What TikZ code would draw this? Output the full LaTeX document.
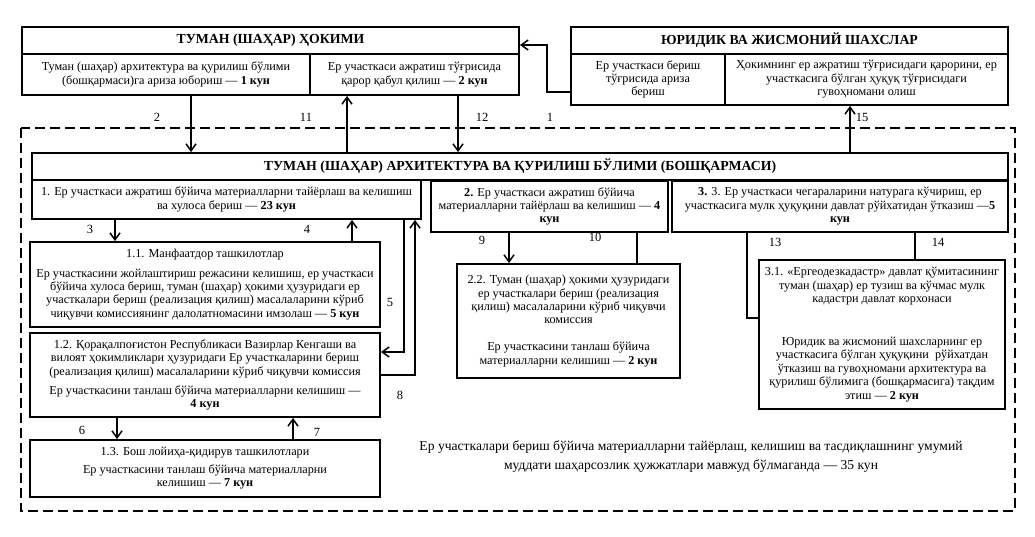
\documentclass[tikz,border=0pt]{standalone}
\usepackage{fontspec}
\setmainfont{Liberation Serif}
\usetikzlibrary{arrows.meta}

\begin{document}
\begin{tikzpicture}[x=1pt,y=-1pt,>={Straight Barb[length=7pt,width=10pt]},
  box/.style={draw,line width=1.8pt,align=center,inner sep=1pt,font=\fontsize{12.2}{13.4}\selectfont},
  head/.style={box,font=\fontsize{13.8}{15}\selectfont\bfseries},
  conn/.style={->,line width=1.5pt},
  link/.style={line width=1.5pt},
  num/.style={font=\fontsize{12.5}{14}\selectfont,inner sep=0pt}]

  \useasboundingbox (0,0) rectangle (1035,537);

  % dashed frame of the district department
  \draw[line width=1.6pt,dash pattern=on 10pt off 5pt] (21,128) rectangle (1015,511);

  % top row
  \node[head,minimum width=497,minimum height=27] (hokT) at (270.5,40.5) {ТУМАН (ШАҲАР) ҲОКИМИ};
  \node[box,minimum width=288,minimum height=41] (hokL) at (166,74.5)
    {Туман (шаҳар) архитектура ва қурилиш бўлими\\(бошқармаси)га ариза юбориш — \textbf{1 кун}};
  \node[box,minimum width=209,minimum height=41] (hokR) at (414.5,74.5)
    {Ер участкаси ажратиш тўғрисида\\қарор қабул қилиш — \textbf{2 кун}};

  \node[head,minimum width=437,minimum height=27] (jisT) at (789.5,40.5) {ЮРИДИК ВА ЖИСМОНИЙ ШАХСЛАР};
  \node[box,minimum width=154,minimum height=51] (jisL) at (648,79.5)
    {Ер участкаси бериш\\тўғрисида ариза\\бериш};
  \node[box,minimum width=283,minimum height=51] (jisR) at (866.5,79.5)
    {Ҳокимнинг ер ажратиш тўғрисидаги қарорини, ер\\участкасига бўлган ҳуқуқ тўғрисидаги\\гувоҳномани олиш};

  % department
  \node[head,minimum width=976,minimum height=27] (arch) at (520,166.5)
    {ТУМАН (ШАҲАР) АРХИТЕКТУРА ВА ҚУРИЛИШ БЎЛИМИ (БОШҚАРМАСИ)};
  \node[box,minimum width=389,minimum height=39] (b1) at (226.5,199.5)
    {1. Ер участкаси ажратиш бўйича материалларни тайёрлаш ва келишиш\\ва хулоса бериш — \textbf{23 кун}};
  \node[box,minimum width=237,minimum height=51] (b2) at (549.5,206.5)
    {\textbf{2.} Ер участкаси ажратиш бўйича\\материалларни тайёрлаш ва келишиш — \textbf{4}\\\textbf{кун}};
  \node[box,minimum width=336,minimum height=51] (b3) at (840,206.5)
    {\textbf{3.} 3. Ер участкаси чегараларини натурага кўчириш, ер\\участкасига мулк ҳуқуқини давлат рўйхатидан ўтказиш —\textbf{5}\\\textbf{кун}};

  \node[box,minimum width=350,minimum height=85] (b11) at (205,284.5)
    {1.1. Манфаатдор ташкилотлар\\[6pt]
     Ер участкасини жойлаштириш режасини келишиш, ер участкаси\\
     бўйича хулоса бериш, туман (шаҳар) ҳокими ҳузуридаги ер\\
     участкалари бериш (реализация қилиш) масалаларини кўриб\\
     чиқувчи комиссиянинг далолатномасини имзолаш — \textbf{5 кун}};
  \node[box,minimum width=350,minimum height=84] (b12) at (205,375)
    {1.2. Қорақалпоғистон Республикаси Вазирлар Кенгаши ва\\
     вилоят ҳокимликлари ҳузуридаги Ер участкаларини бериш\\
     (реализация қилиш) масалаларини кўриб чиқувчи комиссия\\[6pt]
     Ер участкасини танлаш бўйича материалларни келишиш —\\
     \textbf{4 кун}};
  \node[box,minimum width=350,minimum height=57] (b13) at (205,468.5)
    {1.3. Бош лойиҳа-қидирув ташкилотлари\\[4pt]
     Ер участкасини танлаш бўйича материалларни\\
     келишиш — \textbf{7 кун}};

  \node[box,minimum width=223,minimum height=114] (b22) at (568.5,321)
    {2.2. Туман (шаҳар) ҳокими ҳузуридаги\\
     ер участкалари бериш (реализация\\
     қилиш) масалаларини кўриб чиқувчи\\
     комиссия\\[13.4pt]
     Ер участкасини танлаш бўйича\\
     материалларни келишиш — \textbf{2 кун}};
  \node[box,minimum width=246,minimum height=149] (b31) at (882,334.5)
    {3.1. «Ергеодезкадастр» давлат қўмитасининг\\
     туман (шаҳар) ер тузиш ва кўчмас мулк\\
     кадастри давлат корхонаси\\[29.6pt]
     Юридик ва жисмоний шахсларнинг ер\\
     участкасига бўлган ҳуқуқини\ \ рўйхатдан\\
     ўтказиш ва гувоҳномани архитектура ва\\
     қурилиш бўлимига (бошқармасига) тақдим\\
     этиш — \textbf{2 кун}};

  \node[align=center,font=\fontsize{13.6}{19}\selectfont] (total) at (691,457)
    {Ер участкалари бериш бўйича материалларни тайёрлаш, келишиш ва тасдиқлашнинг умумий\\
     муддати шаҳарсозлик ҳужжатлари мавжуд бўлмаганда — 35 кун};

  % connectors
  \draw[conn] (jisL.west |- 0,92) -| (547,45) -- (hokT.east |- 0,45);
  \draw[conn] (hokL.south -| 191,0) -- (arch.north -| 191,0);
  \draw[conn] (arch.north -| 347,0) -- (hokR.south -| 347,0);
  \draw[conn] (hokR.south -| 458,0) -- (arch.north -| 458,0);
  \draw[conn] (arch.north -| 850,0) -- (jisR.south -| 850,0);

  \draw[conn] (b1.south -| 115,0) -- (b11.north -| 115,0);
  \draw[conn] (b11.north -| 352,0) -- (b1.south -| 352,0);
  \draw[conn] (b1.south -| 404,0) |- (b12.east |- 0,352);
  \draw[conn] (b12.east |- 0,375) -| (b1.south -| 415,0);
  \draw[conn] (b12.south -| 117,0) -- (b13.north -| 117,0);
  \draw[conn] (b13.north -| 293,0) -- (b12.south -| 293,0);

  \draw[conn] (b2.south -| 509,0) -- (b22.north -| 509,0);
  \draw[link] (b22.north -| 637,0) -- (b2.south -| 637,0);
  \draw[link] (b3.south -| 747,0) |- (b31.west |- 0,318);
  \draw[link] (b31.north -| 915,0) -- (b3.south -| 915,0);

  % step numbers
  \node[num] (n1) at (550,117) {1};
  \node[num] (n2) at (157,117) {2};
  \node[num] (n11) at (306,117) {11};
  \node[num] (n12) at (482,117) {12};
  \node[num] (n15) at (862,117) {15};
  \node[num] (n3) at (90,229) {3};
  \node[num] (n4) at (307,229) {4};
  \node[num] (n5) at (390,302) {5};
  \node[num] (n8) at (400,395) {8};
  \node[num] (n6) at (82,430) {6};
  \node[num] (n7) at (317,432) {7};
  \node[num] (n9) at (482,240) {9};
  \node[num] (n10) at (595,237) {10};
  \node[num] (n13) at (775,242) {13};
  \node[num] (n14) at (938,242) {14};

\end{tikzpicture}
\end{document}
